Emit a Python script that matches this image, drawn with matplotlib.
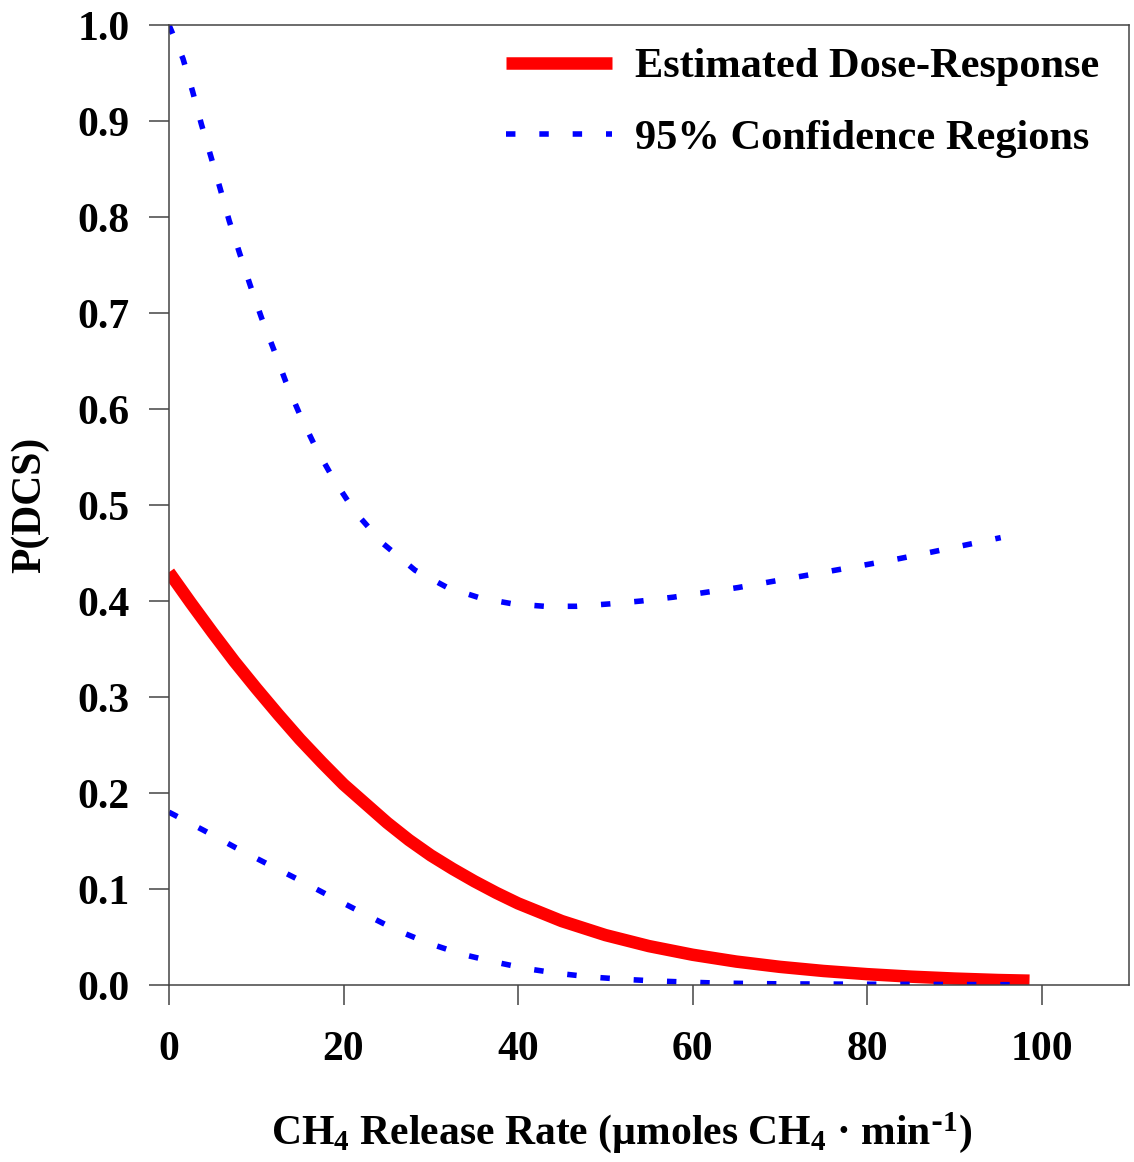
import matplotlib
matplotlib.use('Agg')
import matplotlib.pyplot as plt
import numpy as np

plt.rcParams['font.family'] = ['Liberation Serif', 'DejaVu Serif']
plt.rcParams['font.weight'] = 'bold'
plt.rcParams['mathtext.default'] = 'regular'

# estimated dose-response
est_x = [0, 2.5, 5, 7.5, 10, 12.5, 15, 17.5, 20, 22.5, 25, 27.5, 30, 32.5, 35, 37.5, 40,
         45, 50, 55, 60, 65, 70, 75, 80, 85, 90, 95, 98.6]
est_y = [0.430, 0.398, 0.367, 0.337, 0.309, 0.282, 0.256, 0.232, 0.209, 0.189, 0.169,
         0.151, 0.135, 0.121, 0.108, 0.096, 0.085, 0.0666, 0.052, 0.0405, 0.0315, 0.0244,
         0.0189, 0.0146, 0.0113, 0.0087, 0.0067, 0.0052, 0.0045]

# upper 95% bound
up_x = [0, 1.6, 2.7, 3.7, 4.8, 5.85, 6.9, 8.1, 9.3, 10.6, 12.0, 13.4, 15.0, 16.8, 18.85,
        21.3, 24.5, 28.2, 31.9, 35.7, 39.4, 43.0, 46.7, 50.5, 54.1, 57.8, 61.5, 65.2,
        68.9, 72.6, 76.3, 80.0, 83.6, 87.4, 91.1, 95.3]
up_y = [1.0, 0.965, 0.931, 0.897, 0.863, 0.830, 0.796, 0.762, 0.729, 0.695, 0.662, 0.628,
        0.594, 0.560, 0.527, 0.493, 0.460, 0.432, 0.414, 0.403, 0.397, 0.3945, 0.3945,
        0.397, 0.400, 0.404, 0.409, 0.414, 0.420, 0.426, 0.432, 0.438, 0.444, 0.451,
        0.458, 0.466]

# lower 95% bound
lo_x = [0, 4.0, 7.65, 11.3, 15.0, 18.75, 22.4, 26.1, 29.9, 33.6, 37.3, 41.0, 44.7, 48.4,
        52.1, 55.8, 59.5, 62.8, 70, 80, 90, 97]
lo_y = [0.180, 0.161, 0.143, 0.126, 0.109, 0.091, 0.074, 0.057, 0.043, 0.032, 0.024, 0.017,
        0.012, 0.0083, 0.0059, 0.0042, 0.003, 0.002, 0.0012, 0.0008, 0.0005, 0.0003]

x_ticks = [0, 20, 40, 60, 80, 100]
y_ticks = [0.0, 0.1, 0.2, 0.3, 0.4, 0.5, 0.6, 0.7, 0.8, 0.9, 1.0]

fig = plt.figure(figsize=(11.34, 11.62), dpi=100)
ax = fig.add_axes([169/1134., 1 - 985/1162., 960/1134., 960/1162.])

dash = (0, (1.7, 4.3))
ax.plot(est_x, est_y, color='#ff0000', lw=9, solid_capstyle='butt',
        solid_joinstyle='round', label='Estimated Dose-Response')
ax.plot(up_x, up_y, color='#0000ff', lw=4, linestyle=dash, label='95% Confidence Regions')
ax.plot(lo_x, lo_y, color='#0000ff', lw=4, linestyle=dash)

ax.set_xlim(0, 110)
ax.set_ylim(0, 1.0)
ax.set_xticks(x_ticks)
ax.set_yticks(y_ticks)
ax.set_yticklabels(['%.1f' % v for v in y_ticks])
for s in ax.spines.values():
    s.set_color('#444444')
    s.set_linewidth(1.1)
ax.tick_params(axis='both', direction='out', length=14.4, width=1.1, color='#444444',
               labelsize=30)
ax.tick_params(axis='y', pad=14)
ax.tick_params(axis='x', pad=19)

ax.set_xlabel('CH$_4$ Release Rate (\u00b5moles CH$_4$ \u00b7 min$^{\\text{-}1}$)',
              fontsize=30, fontweight='bold')
ax.xaxis.set_label_coords(0.471, -0.13)
ax.set_ylabel('P(DCS)', fontsize=30, fontweight='bold', labelpad=20)

leg = ax.legend(loc='upper right', bbox_to_anchor=(1.009, 1.016), frameon=False,
                fontsize=30.5, handlelength=2.5, handletextpad=0.55, labelspacing=0.78)

fig.savefig('out.png', dpi=100)
